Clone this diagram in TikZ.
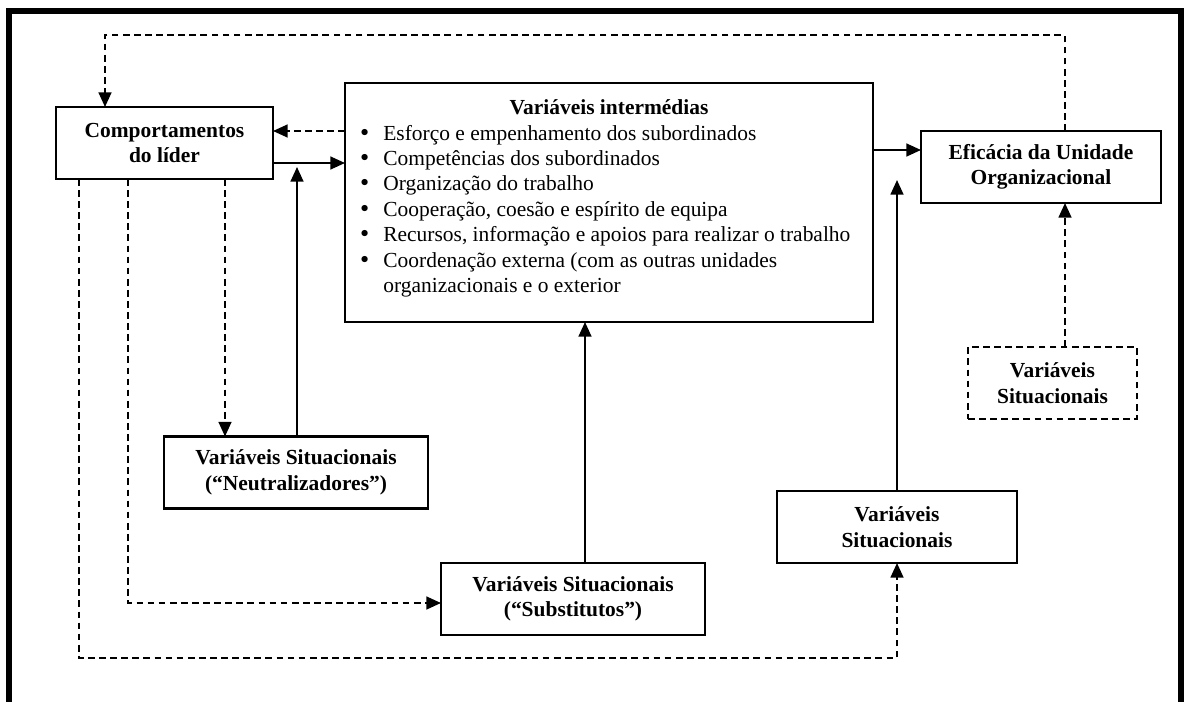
\documentclass[tikz,border=0pt]{standalone}
\usepackage{fontspec}
\setmainfont{Liberation Serif}
\newfontfamily\bulfont{DejaVu Sans}
\usetikzlibrary{arrows.meta}
\newcommand{\bul}{\makebox[13.75pt][l]{{\bulfont •}}}
\begin{document}
\begin{tikzpicture}[x=0.55pt,y=-0.55pt,
  plainbox/.style={draw,line width=1.2pt,inner sep=0pt,outer sep=0pt,align=center,
    minimum height=39.6pt,
    font=\fontsize{11.8}{14}\selectfont\bfseries},
  dashbox/.style={plainbox,dash pattern=on 3.7pt off 2.4pt},
  sarr/.style={line width=1.1pt,-{Triangle[length=8pt,width=7pt]}},
  darr/.style={sarr,dash pattern=on 3.7pt off 2.4pt},
  bodytext/.style={inner sep=0pt,font=\fontsize{11.8}{14}\selectfont}]
\useasboundingbox (0,0) rectangle (1185,702);
% outer frame
\draw[line width=3.3pt] (9,702) -- (9,11) -- (1181,11) -- (1181,702);
% boxes
\node[plainbox,minimum width=119.35pt] (lead) at (164.5,143) {Comportamentos\\do líder};
\node[plainbox,minimum width=290.4pt,minimum height=131.45pt] (mid) at (609,202.5) {};
\node[plainbox,minimum width=132pt] (eff) at (1041,167) {Eficácia da Unidade\\Organizacional};
\node[plainbox,minimum width=145.2pt] (neut) at (296,472.5) {Variáveis Situacionais\\(“Neutralizadores”)};
\node[plainbox,minimum width=145.2pt] (subs) at (573,599) {Variáveis Situacionais\\(“Substitutos”)};
\node[plainbox,minimum width=132pt] (sit) at (897,527) {Variáveis\\Situacionais};
\node[dashbox,minimum width=92.95pt] (sitd) at (1052.5,383) {Variáveis\\Situacionais};
% text of the middle box
\node[bodytext,anchor=base,font=\fontsize{11.8}{14}\selectfont\bfseries] (midtitle) at (609,114) {Variáveis intermédias};
\node[bodytext,anchor=base west] (midlist) at (358,140) {\parbox[t]{300pt}{\fontsize{11.8}{14}\selectfont
\bul Esforço e empenhamento dos subordinados\\
\bul Competências dos subordinados\\
\bul Organização do trabalho\\
\bul Cooperação, coesão e espírito de equipa\\
\bul Recursos, informação e apoios para realizar o trabalho\\
\bul Coordenação externa (com as outras unidades\\
\hspace*{13.75pt}organizacionais e o exterior}};
% helper coordinates
\coordinate (yA) at (0,163);
\coordinate (yB) at (0,131);
\coordinate (yC) at (0,150);
\coordinate (xN) at (297,0);
\coordinate (tipN) at (297,167);
\coordinate (xR) at (897,0);
\coordinate (tipS) at (897,180);
\coordinate (xSub) at (585,0);
\coordinate (xL1) at (79,0);
\coordinate (xL2) at (128,0);
\coordinate (xL3) at (225,0);
\coordinate (yS) at (0,603);
\coordinate (yBot) at (0,658);
\coordinate (xE) at (1065,0);
\coordinate (yTop) at (0,35);
\coordinate (xT) at (105,0);
% connectors
\draw[sarr] (lead.east |- yA) -- (mid.west |- yA);
\draw[darr] (mid.west |- yB) -- (lead.east |- yB);
\draw[sarr] (mid.east |- yC) -- (eff.west |- yC);
\draw[sarr] (neut.north -| xN) -- (tipN);
\draw[sarr] (sit.north -| xR) -- (tipS);
\draw[sarr] (subs.north -| xSub) -- (mid.south -| xSub);
\draw[darr] (lead.south -| xL3) -- (neut.north -| xL3);
\draw[darr] (lead.south -| xL2) -- (xL2 |- yS) -- (subs.west |- yS);
\draw[darr] (lead.south -| xL1) -- (xL1 |- yBot) -- (xR |- yBot) -- (sit.south -| xR);
\draw[darr] (sitd.north -| xE) -- (eff.south -| xE);
\draw[darr] (eff.north -| xE) -- (xE |- yTop) -- (xT |- yTop) -- (lead.north -| xT);
\end{tikzpicture}
\end{document}
